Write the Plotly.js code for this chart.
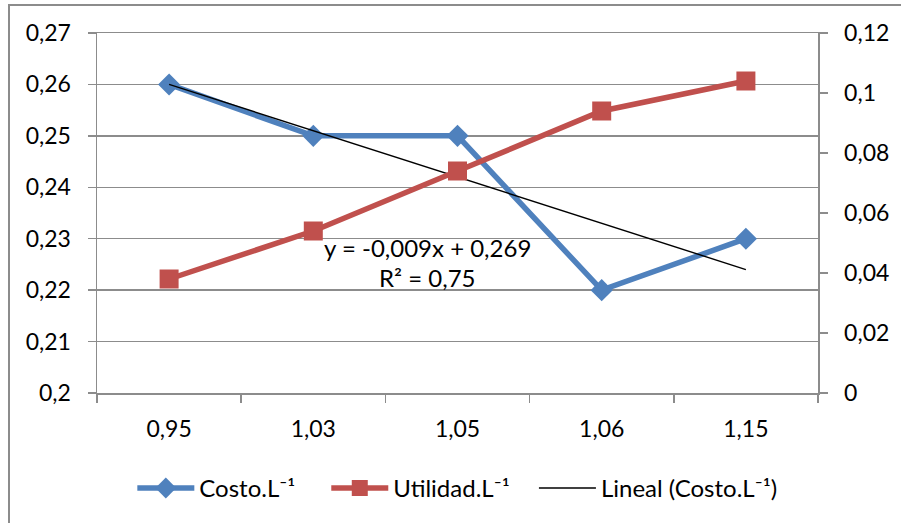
<!DOCTYPE html>
<html>
<head>
<meta charset="utf-8">
<script src="https://cdn.plot.ly/plotly-3.0.1.min.js"></script>
<style>
  html, body { margin: 0; padding: 0; background: #fff; }
  #wrap { position: relative; width: 901px; height: 523px; overflow: hidden; }
  #chart { width: 901px; height: 523px; }
  #frame { position: absolute; left: 8px; top: 4px; width: 1000px; height: 1000px;
           border-left: 2px solid #8c8c8c; border-top: 2px solid #8c8c8c; pointer-events: none; }
</style>
</head>
<body>
<div id="wrap">
  <div id="chart"></div>
  <div id="frame"></div>
</div>
<script>
// Categories (x labels)
const categories = ["0,95", "1,03", "1,05", "1,06", "1,15"];
// Cost per litre (left axis)
const costo = [0.26, 0.25, 0.25, 0.22, 0.23];
// Profit per litre (right axis)
const utilidad = [0.038, 0.054, 0.074, 0.094, 0.104];
// Linear trend of cost: y = slope * n + intercept, n = 1..5
const trendSlope = -0.009;
const trendIntercept = 0.269;
const trendR2 = 0.75;

const leftTicks = [0.2, 0.21, 0.22, 0.23, 0.24, 0.25, 0.26, 0.27];
const rightTicks = [0, 0.02, 0.04, 0.06, 0.08, 0.1, 0.12];
const fmt = v => String(v).replace(".", ",");

const trend = categories.map((c, i) => trendSlope * (i + 1) + trendIntercept);

const FONT = "Lato, 'Open Sans', sans-serif";
const GRID = "#8c8c8c";
const FS = 23;
const LFS = 24;

const traces = [
  {
    x: categories, y: costo, name: "Costo.L⁻¹", type: "scatter", mode: "lines+markers",
    line: { color: "#4F81BD", width: 5.5 },
    marker: { symbol: "diamond", size: 17, color: "#4F81BD" },
    yaxis: "y", legend: "legend"
  },
  {
    x: categories, y: utilidad, name: "Utilidad.L⁻¹", type: "scatter", mode: "lines+markers",
    line: { color: "#C0504D", width: 5.5 },
    marker: { symbol: "square", size: 19, color: "#C0504D" },
    yaxis: "y2", legend: "legend2"
  },
  {
    x: categories, y: trend, name: "Lineal (Costo.L⁻¹)", type: "scatter", mode: "lines",
    line: { color: "#000000", width: 1.4 },
    yaxis: "y", legend: "legend3"
  }
];

// one legend box per entry so each entry can sit at its own place in the row
const legendBox = (xPaper) => ({
  orientation: "h", x: xPaper, xanchor: "left", y: -0.265, yanchor: "middle",
  font: { family: FONT, size: LFS }, itemwidth: 57, bgcolor: "rgba(0,0,0,0)"
});

const layout = {
  width: 901, height: 523,
  margin: { l: 97, r: 83, t: 33, b: 130 },
  paper_bgcolor: "#ffffff", plot_bgcolor: "#ffffff",
  font: { family: FONT, size: FS, color: "#000" },
  showlegend: true,
  legend: legendBox(0.049),
  legend2: legendBox(0.318),
  legend3: legendBox(0.606),
  xaxis: {
    type: "category", categoryorder: "array", categoryarray: categories,
    showgrid: false, showline: true, mirror: true, linecolor: GRID, linewidth: 1.5,
    ticks: "outside", tickson: "boundaries", ticklen: 8, tickcolor: GRID, tickwidth: 1.5,
    ticklabelstandoff: 15,
    tickfont: { family: FONT, size: FS }, range: [-0.5, 4.5], fixedrange: true
  },
  yaxis: {
    range: [0.2, 0.27], tickvals: leftTicks, ticktext: leftTicks.map(fmt),
    showgrid: true, gridcolor: GRID, gridwidth: 1.5,
    showline: true, linecolor: GRID, linewidth: 1.5,
    ticks: "outside", ticklen: 8, tickcolor: GRID, tickwidth: 1.5,
    ticklabelstandoff: 12,
    tickfont: { family: FONT, size: FS }, zeroline: false
  },
  yaxis2: {
    overlaying: "y", side: "right",
    range: [0, 0.12], tickvals: rightTicks, ticktext: rightTicks.map(fmt),
    showgrid: false, showline: true, linecolor: GRID, linewidth: 1.5,
    ticks: "outside", ticklen: 8, tickcolor: GRID, tickwidth: 1.5,
    ticklabelstandoff: 12,
    tickfont: { family: FONT, size: FS }, zeroline: false
  },
  annotations: [
    {
      xref: "paper", yref: "y", x: 0.458, y: 0.2283, xanchor: "center", yanchor: "middle",
      text: "y = " + fmt(trendSlope) + "x + " + fmt(trendIntercept),
      showarrow: false, font: { family: FONT, size: LFS }
    },
    {
      xref: "paper", yref: "y", x: 0.458, y: 0.2225, xanchor: "center", yanchor: "middle",
      text: "R² = " + fmt(trendR2),
      showarrow: false, font: { family: FONT, size: LFS }
    }
  ]
};

Plotly.newPlot("chart", traces, layout, { staticPlot: true, displayModeBar: false });
</script>
</body>
</html>
